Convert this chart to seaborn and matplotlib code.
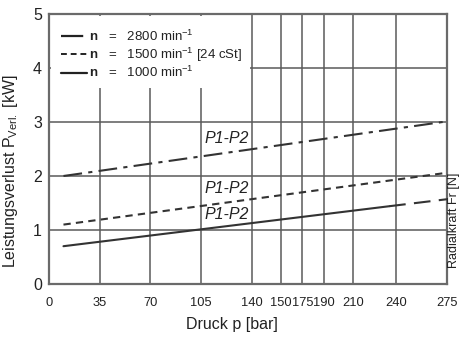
import matplotlib
matplotlib.use("Agg")
import matplotlib.pyplot as plt
from matplotlib.lines import Line2D
from matplotlib.patches import Rectangle
import seaborn as sns
import pandas as pd

# ---- data ----
pressure_2800 = [10, 272]
loss_2800 = [2.0, 3.0]
pressure_1500 = [10, 275]
loss_1500 = [1.1, 2.06]
pressure_1000_solid = [10, 235]
loss_1000_solid = [0.7, 1.44]
pressure_1000_dash = [235, 275]
loss_1000_dash = [1.44, 1.57]

x_tick_pos = [0, 35, 70, 105, 140, 160, 175, 190, 210, 240, 275]
x_tick_labels = ["0", "35", "70", "105", "140", "150", "175", "190", "210", "240", "275"]
y_ticks = [0, 1, 2, 3, 4, 5]
legend_labels = [r"$\mathbf{n}$   =   2800 min$^{-1}$",
                 r"$\mathbf{n}$   =   1500 min$^{-1}$ [24 cSt]",
                 r"$\mathbf{n}$   =   1000 min$^{-1}$"]
curve_label = "P1-P2"
label_pos_x = [123, 123, 123]
label_pos_y = [2.69, 1.77, 1.29]

sns.set_theme(style="white")
plt.rcParams['font.family'] = ['Liberation Sans Narrow', 'Liberation Sans', 'DejaVu Sans']
plt.rcParams['mathtext.fontset'] = 'custom'
plt.rcParams['mathtext.rm'] = 'Liberation Sans'
plt.rcParams['mathtext.bf'] = 'Liberation Sans:bold'

fig = plt.figure(figsize=(4.6, 3.38), dpi=100)
ax = fig.add_axes([49/460, 54/338, 398/460, 270/338])

ink = "#333333"
grid_c = "#5a5a5a"
dd = (0, (9, 3, 2, 3))
sd = (0, (3.5, 2.5))
ld = (0, (8, 4))

df2800 = pd.DataFrame({"p": pressure_2800, "v": loss_2800})
df1500 = pd.DataFrame({"p": pressure_1500, "v": loss_1500})
df1000a = pd.DataFrame({"p": pressure_1000_solid, "v": loss_1000_solid})
df1000b = pd.DataFrame({"p": pressure_1000_dash, "v": loss_1000_dash})

lw = 1.5
sns.lineplot(data=df2800, x="p", y="v", ax=ax, color=ink, lw=lw, linestyle=dd, zorder=3)
sns.lineplot(data=df1500, x="p", y="v", ax=ax, color=ink, lw=lw, linestyle=sd, zorder=3)
sns.lineplot(data=df1000a, x="p", y="v", ax=ax, color=ink, lw=lw, linestyle="-", zorder=3)
sns.lineplot(data=df1000b, x="p", y="v", ax=ax, color=ink, lw=lw, linestyle=ld, zorder=3)

ax.set_xlim(0, 275)
ax.set_ylim(0, 5)
ax.set_xticks(x_tick_pos)
ax.set_xticklabels(x_tick_labels)
ax.set_yticks(y_ticks)
ax.tick_params(axis="x", length=0, pad=9, labelsize=9.3, colors="#222222")
ax.tick_params(axis="y", length=0, pad=5, labelsize=11.5, colors="#222222")

ax.set_axisbelow(True)
ax.grid(True, color=grid_c, lw=1.1)

for s in ax.spines.values():
    s.set_color("#6a6a6a")
    s.set_linewidth(1.6)

# white area behind the legend
ax.add_patch(Rectangle((0.004, 0.726), 0.5, 0.268, transform=ax.transAxes,
                       facecolor="white", edgecolor="none", zorder=1))

handles = [Line2D([], [], color="#222222", lw=1.6, linestyle=(0, (10, 2.5, 3, 2.5))),
           Line2D([], [], color="#222222", lw=1.4, linestyle=(0, (3, 2))),
           Line2D([], [], color="#222222", lw=1.6, linestyle="-")]
leg = ax.legend(handles, legend_labels, loc="upper left", bbox_to_anchor=(0.01, 0.975),
                frameon=False, fontsize=9.5, handlelength=2.0, handletextpad=0.1,
                labelspacing=0.12, borderaxespad=0.2)
for t in leg.get_texts():
    t.set_color("#222222")

for xp, yp in zip(label_pos_x, label_pos_y):
    ax.text(xp, yp, curve_label, fontsize=11.5, style="italic", ha="center", va="center",
            color="#222222", zorder=4)

ax.set_xlabel("Druck p [bar]", fontsize=11.5, color="#222222")
ax.xaxis.set_label_coords(0.46, -0.122)
ax.set_ylabel("Leistungsverlust P$_{\\rm Verl.}$ [kW]", fontsize=11.5, color="#222222")
ax.yaxis.set_label_coords(-0.073, 0.42)

fig.text(454/460, 1 - 220/338, "Radialkraft Fr [N]", rotation=90, ha="center", va="center",
         fontsize=9, color="#222222")

fig.savefig("out.png", dpi=100, facecolor="white")
